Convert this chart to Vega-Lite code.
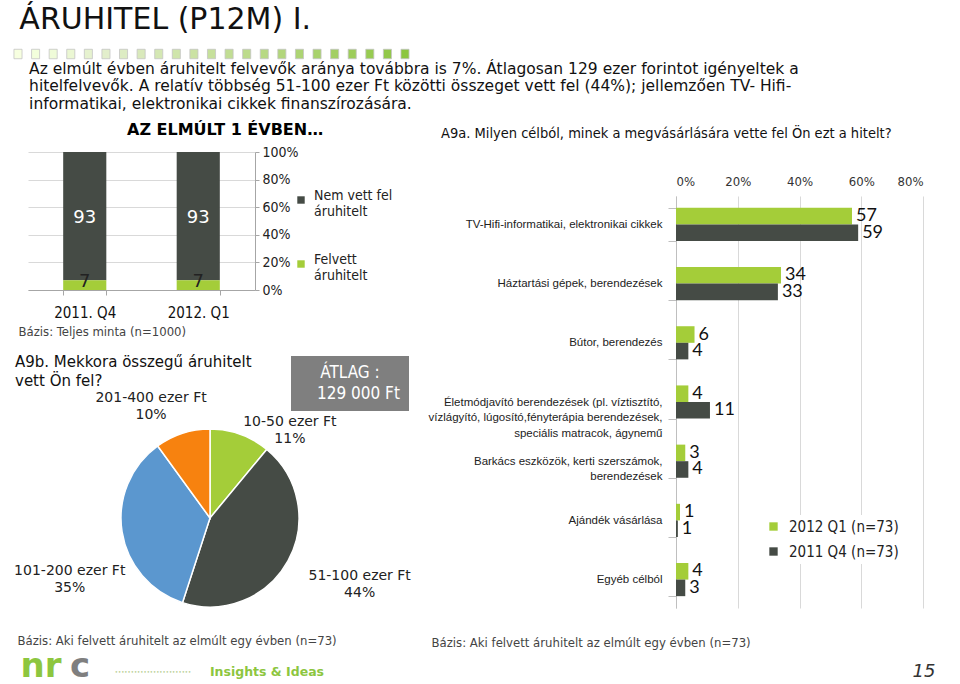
{
  "$schema": "https://vega.github.io/schema/vega-lite/v6.json",
  "background": "white",
  "padding": {"left": 12, "top": 4, "right": 0, "bottom": 0},
  "config": {
    "view": {"stroke": null},
    "font": "DejaVu Sans Condensed, DejaVu Sans",
    "title": {"fontWeight": "normal", "color": "#111", "font": "DejaVu Sans Condensed, DejaVu Sans"},
    "axis": {"labelFont": "DejaVu Sans Condensed, DejaVu Sans", "titleFont": "DejaVu Sans Condensed, DejaVu Sans"},
    "legend": {"labelFont": "DejaVu Sans Condensed, DejaVu Sans", "titleFont": "DejaVu Sans Condensed, DejaVu Sans"},
    "text": {"font": "DejaVu Sans Condensed, DejaVu Sans"}
  },
  "datasets": {
    "squares": [{"step": 1}, {"step": 2}, {"step": 3}, {"step": 4}, {"step": 5}, {"step": 6}, {"step": 7}, {"step": 8}, {"step": 9}, {"step": 10}, {"step": 11}, {"step": 12}, {"step": 13}, {"step": 14}, {"step": 15}, {"step": 16}, {"step": 17}, {"step": 18}, {"step": 19}, {"step": 20}, {"step": 21}, {"step": 22}, {"step": 23}],
    "status": [
      {"period": "2011. Q4", "status": "Nem vett fel áruhitelt", "value": 93},
      {"period": "2011. Q4", "status": "Felvett áruhitelt", "value": 7},
      {"period": "2012. Q1", "status": "Nem vett fel áruhitelt", "value": 93},
      {"period": "2012. Q1", "status": "Felvett áruhitelt", "value": 7}
    ],
    "pie": [
      {"range": "10-50 ezer Ft", "pct": 0.11},
      {"range": "51-100 ezer Ft", "pct": 0.44},
      {"range": "101-200 ezer Ft", "pct": 0.35},
      {"range": "201-400 ezer Ft", "pct": 0.10}
    ],
    "purpose": [
      {"cat": "TV-Hifi-informatikai, elektronikai cikkek", "series": "2012 Q1 (n=73)", "value": 57},
      {"cat": "TV-Hifi-informatikai, elektronikai cikkek", "series": "2011 Q4 (n=73)", "value": 59},
      {"cat": "Háztartási gépek, berendezések", "series": "2012 Q1 (n=73)", "value": 34},
      {"cat": "Háztartási gépek, berendezések", "series": "2011 Q4 (n=73)", "value": 33},
      {"cat": "Bútor, berendezés", "series": "2012 Q1 (n=73)", "value": 6},
      {"cat": "Bútor, berendezés", "series": "2011 Q4 (n=73)", "value": 4},
      {"cat": "Életmódjavító berendezések (pl. víztisztító, vízlágyító, lúgosító,fényterápia  berendezések, speciális matracok, ágynemű", "series": "2012 Q1 (n=73)", "value": 4},
      {"cat": "Életmódjavító berendezések (pl. víztisztító, vízlágyító, lúgosító,fényterápia  berendezések, speciális matracok, ágynemű", "series": "2011 Q4 (n=73)", "value": 11},
      {"cat": "Barkács eszközök, kerti szerszámok, berendezések", "series": "2012 Q1 (n=73)", "value": 3},
      {"cat": "Barkács eszközök, kerti szerszámok, berendezések", "series": "2011 Q4 (n=73)", "value": 4},
      {"cat": "Ajándék vásárlása", "series": "2012 Q1 (n=73)", "value": 1.3},
      {"cat": "Ajándék vásárlása", "series": "2011 Q4 (n=73)", "value": 0.6},
      {"cat": "Egyéb célból", "series": "2012 Q1 (n=73)", "value": 4},
      {"cat": "Egyéb célból", "series": "2011 Q4 (n=73)", "value": 3}
    ]
  },
  "spacing": 1,
  "align": "none",
  "resolve": {"scale": {"color": "independent", "shape": "independent"}, "legend": {"color": "independent", "shape": "independent"}},
  "vconcat": [
    {
      "title": {"text": "ÁRUHITEL (P12M) I.", "anchor": "start", "dx": 7, "fontSize": 30, "font": "DejaVu Sans", "color": "#111", "offset": 13},
      "spacing": 0,
      "align": "none",
      "resolve": {"scale": {"color": "independent", "shape": "independent"}, "legend": {"color": "independent", "shape": "independent"}},
      "vconcat": [
        {
          "width": 387, "height": 10,
          "data": {"name": "squares"},
          "mark": {"type": "point", "filled": true, "shape": "M-0.85,-1H0.85V1H-0.85Z", "size": 90, "stroke": "#c4c4c4", "strokeWidth": 0.8, "opacity": 1},
          "encoding": {
            "x": {"field": "step", "type": "ordinal", "axis": null, "scale": {"padding": 0, "range": [-10, 377]}},
            "color": {"field": "step", "type": "quantitative", "legend": null, "scale": {"domain": [1, 6, 23], "range": ["#ffffff", "#e2eecb", "#8cc63f"]}}
          }
        },
        {
          "title": {
            "text": [
              "Az elmúlt évben áruhitelt felvevők aránya továbbra is 7%. Átlagosan 129 ezer forintot igényeltek a",
              "hitelfelvevők. A relatív többség 51-100 ezer Ft közötti összeget vett fel (44%); jellemzően TV- Hifi-",
              "informatikai, elektronikai cikkek finanszírozására."
            ],
            "anchor": "start", "fontSize": 15.5, "lineHeight": 17.5, "font": "DejaVu Sans", "dx": 15, "offset": 10, "color": "#111"
          },
          "spacing": 13,
          "resolve": {"scale": {"color": "independent", "shape": "independent"}, "legend": {"color": "independent", "shape": "independent"}},
          "hconcat": [
            {
              "spacing": 117,
              "bounds": "flush",
              "resolve": {"scale": {"color": "independent", "shape": "independent"}, "legend": {"color": "independent", "shape": "independent"}},
              "vconcat": [
                {
                  "width": 227, "height": 138,
                  "title": {"text": "AZ ELMÚLT 1 ÉVBEN…", "anchor": "start", "frame": "group", "dx": 99, "fontSize": 16, "fontWeight": "bold", "font": "DejaVu Sans", "color": "#000", "offset": 7},
                  "data": {"name": "status"},
                  "encoding": {
                    "x": {
                      "field": "period", "type": "nominal",
                      "scale": {"paddingInner": 0.62, "paddingOuter": 0.31},
                      "axis": {
                        "title": "Bázis: Teljes minta (n=1000)", "labelAngle": 0, "labelFontSize": 15, "labelColor": "#111", "labelPadding": 10,
                        "tickBand": "extent", "tickSize": 5, "tickColor": "#a6a6a6", "domainColor": "#a6a6a6",
                        "titleFontSize": 13, "titleFontWeight": "normal", "titleColor": "#444", "titleAlign": "left", "titleAnchor": "start", "titleX": -10, "titlePadding": 5
                      }
                    },
                    "y": {
                      "field": "value", "type": "quantitative", "stack": "zero", "scale": {"domain": [0, 100]},
                      "axis": {"orient": "right", "values": [0, 20, 40, 60, 80, 100], "labelExpr": "datum.value + '%'", "labelOverlap": false, "title": null, "grid": true, "gridColor": "#d9d9d9", "domainColor": "#a6a6a6", "tickColor": "#a6a6a6", "tickSize": 4, "labelFontSize": 14, "labelColor": "#222", "labelPadding": 3}
                    }
                  },
                  "layer": [
                    {
                      "mark": {"type": "bar"},
                      "encoding": {
                        "color": {
                          "field": "status", "type": "nominal",
                          "scale": {"domain": ["Nem vett fel áruhitelt", "Felvett áruhitelt"], "range": ["#454b45", "#a4cd39"]},
                          "legend": {
                            "orient": "none", "legendX": 266, "legendY": 41, "title": null, "symbolType": "square", "symbolSize": 55,
                            "labelFontSize": 14, "labelColor": "#222", "rowPadding": 34, "labelOffset": 6, "labelLimit": 200, "labelBaseline": "alphabetic",
                            "labelExpr": "datum.label == 'Nem vett fel áruhitelt' ? ['Nem vett fel', 'áruhitelt'] : ['Felvett', 'áruhitelt']"
                          }
                        },
                        "order": {"field": "status", "type": "nominal", "sort": "ascending"}
                      }
                    },
                    {
                      "transform": [{"filter": "datum.status == 'Nem vett fel áruhitelt'"}],
                      "mark": {"type": "text", "color": "white", "fontSize": 18, "font": "DejaVu Sans", "dy": 56, "baseline": "middle"},
                      "encoding": {"text": {"field": "value", "type": "quantitative"}}
                    },
                    {
                      "transform": [{"filter": "datum.status == 'Felvett áruhitelt'"}],
                      "mark": {"type": "text", "color": "#222", "fontSize": 18, "font": "DejaVu Sans", "dy": 2, "baseline": "middle"},
                      "encoding": {"text": {"field": "value", "type": "quantitative"}}
                    }
                  ]
                },
                {
                  "width": 364, "height": 222,
                  "title": {"text": ["A9b.  Mekkora összegű áruhitelt", "vett Ön fel?"], "anchor": "start", "frame": "group", "dx": -13, "fontSize": 15, "lineHeight": 19, "font": "DejaVu Sans", "offset": -33, "color": "#111"},
                  "layer": [
                    {
                      "data": {"name": "pie"},
                      "transform": [{"window": [{"op": "row_number", "as": "idx"}]}],
                      "mark": {"type": "arc", "outerRadius": 89, "stroke": "white", "strokeWidth": 1.5},
                      "encoding": {
                        "theta": {"field": "pct", "type": "quantitative", "stack": true},
                        "order": {"field": "idx", "type": "quantitative"},
                        "color": {"field": "range", "type": "nominal", "scale": {"domain": ["10-50 ezer Ft", "51-100 ezer Ft", "101-200 ezer Ft", "201-400 ezer Ft"], "range": ["#a4cd39", "#454b45", "#5b97cf", "#f7820f"]}, "legend": null}
                      }
                    },
                    {
                      "data": {"name": "pie"},
                      "transform": [{"window": [{"op": "row_number", "as": "idx"}]}],
                      "mark": {
                        "type": "text", "font": "DejaVu Sans", "fontSize": 14, "color": "#222", "lineHeight": 17, "baseline": "middle",
                        "radius": {"expr": "datum.range == '10-50 ezer Ft' ? 100 : datum.range == '51-100 ezer Ft' ? 140 : datum.range == '101-200 ezer Ft' ? 142 : 126"},
                        "dx": {"expr": "datum.range == '10-50 ezer Ft' ? 46 : datum.range == '51-100 ezer Ft' ? 27 : datum.range == '101-200 ezer Ft' ? 0 : -20"},
                        "dy": {"expr": "datum.range == '10-50 ezer Ft' ? -2 : datum.range == '51-100 ezer Ft' ? -9 : datum.range == '101-200 ezer Ft' ? 31 : 0"},
                        "text": {"expr": "[datum.range, format(datum.pct, '.0%')]"}
                      },
                      "encoding": {
                        "theta": {"field": "pct", "type": "quantitative", "stack": true},
                        "order": {"field": "idx", "type": "quantitative"}
                      }
                    },
                    {
                      "data": {"values": [{"avg": "129 000 Ft"}]},
                      "mark": {"type": "point", "opacity": 0},
                      "encoding": {
                        "x": {
                          "field": "avg", "type": "nominal",
                          "axis": {"title": "Bázis: Aki felvett áruhitelt az elmúlt egy évben (n=73)", "labels": false, "ticks": false, "domain": false, "titleAnchor": "start", "titleAlign": "left", "titleX": -11, "titlePadding": 5, "titleFontSize": 13, "titleFontWeight": "normal", "titleColor": "#444"}
                        },
                        "shape": {
                          "field": "avg", "type": "nominal",
                          "legend": {
                            "orient": "none", "legendX": 263, "legendY": -51, "title": "ÁTLAG :", "titleFontSize": 17, "titleColor": "white", "titleFontWeight": "normal",
                            "titleAnchor": "middle", "titleAlign": "center", "labelFontSize": 17, "labelColor": "white", "symbolSize": 0, "symbolOpacity": 0, "symbolStrokeWidth": 0,
                            "labelOffset": 0, "fillColor": "#7f7f7f", "padding": 9, "titlePadding": 3
                          }
                        }
                      }
                    }
                  ]
                }
              ]
            },
            {
              "bounds": "flush",
              "spacing": 0,
              "resolve": {"scale": {"color": "independent", "shape": "independent"}, "legend": {"color": "independent", "shape": "independent"}},
              "vconcat": [
                {"width": 247, "height": 44, "data": {"values": []}, "mark": {"type": "text"}, "encoding": {}},
                {
                  "width": 247, "height": 412,
                  "title": {"text": "A9a. Milyen célból, minek a megvásárlására vette fel Ön ezt a hitelt?", "anchor": "start", "frame": "group", "dx": -235, "fontSize": 14.5, "offset": 34, "color": "#111"},
                  "data": {"name": "purpose"},
                  "encoding": {
                    "y": {
                      "field": "cat", "type": "nominal", "sort": null, "scale": {"paddingInner": 0.44},
                      "axis": {
                        "title": "Bázis: Aki felvett áruhitelt az elmúlt egy évben (n=73)", "titleAngle": 0, "titleAlign": "left", "titleBaseline": "middle", "titleX": -245, "titleY": 446,
                        "titleFontSize": 13, "titleFontWeight": "normal", "titleColor": "#444",
                        "labelFont": "Liberation Sans Narrow, Liberation Sans", "labelFontSize": 11.5, "labelColor": "#222", "labelLimit": 330, "labelLineHeight": 15.5,
                        "labelExpr": "indexof(datum.label, 'Életmód') == 0 ? ['Életmódjavító berendezések (pl. víztisztító,', 'vízlágyító, lúgosító,fényterápia  berendezések,', 'speciális matracok, ágynemű'] : indexof(datum.label, 'Barkács') == 0 ? ['Barkács eszközök, kerti szerszámok,', 'berendezések'] : datum.label",
                        "tickBand": "extent", "tickSize": 8, "tickColor": "#bfbfbf", "domainColor": "#bfbfbf", "labelPadding": 6, "grid": false
                      }
                    },
                    "yOffset": {"field": "series", "type": "nominal", "sort": ["2012 Q1 (n=73)", "2011 Q4 (n=73)"]},
                    "x": {
                      "field": "value", "type": "quantitative", "stack": null, "scale": {"domain": [0, 80]},
                      "axis": {"orient": "top", "values": [0, 20, 40, 60, 80], "labelExpr": "datum.value + '%'", "title": null, "domain": false, "ticks": false, "grid": true, "gridColor": "#d9d9d9", "labelFontSize": 13, "labelColor": "#333", "labelPadding": 8}
                    }
                  },
                  "layer": [
                    {
                      "mark": {"type": "bar"},
                      "encoding": {
                        "color": {
                          "field": "series", "type": "nominal",
                          "scale": {"domain": ["2012 Q1 (n=73)", "2011 Q4 (n=73)"], "range": ["#a4cd39", "#454b45"]},
                          "legend": {"orient": "none", "legendX": 86, "legendY": 319, "title": null, "symbolType": "square", "symbolSize": 70, "labelFontSize": 15, "labelColor": "#222", "rowPadding": 9, "labelOffset": 8, "fillColor": "white", "padding": 4}
                        }
                      }
                    },
                    {
                      "mark": {"type": "text", "align": "left", "baseline": "middle", "dx": 4, "fontSize": 18, "font": "Lato", "color": "#111"},
                      "encoding": {"text": {"field": "value", "type": "quantitative", "format": ".0f"}}
                    }
                  ]
                }
              ]
            }
          ]
        }
      ]
    },
    {
      "bounds": "flush",
      "spacing": 0,
      "hconcat": [
        {"width": 26, "height": 30, "data": {"values": [{"t": "nr"}]}, "mark": {"type": "text", "fontSize": 34, "fontWeight": "bold", "font": "DejaVu Sans", "color": "#8dc63f", "baseline": "alphabetic", "dy": 5}, "encoding": {"text": {"field": "t", "type": "nominal"}}},
        {"width": 52, "height": 30, "data": {"values": [{"t": "c"}]}, "mark": {"type": "text", "fontSize": 34, "fontWeight": "bold", "font": "DejaVu Sans", "color": "#7f7f7f", "baseline": "alphabetic", "dy": 5}, "encoding": {"text": {"field": "t", "type": "nominal"}}},
        {"width": 94, "height": 30, "data": {"values": [{"t": "••••••••••••••••••••••••"}]}, "mark": {"type": "text", "fontSize": 6, "color": "#b9cf95", "baseline": "middle"}, "encoding": {"text": {"field": "t", "type": "nominal"}}},
        {"width": 134, "height": 30, "data": {"values": [{"t": "Insights & Ideas"}]}, "mark": {"type": "text", "fontSize": 12.5, "fontWeight": "bold", "font": "DejaVu Sans", "color": "#8dc63f", "baseline": "middle"}, "encoding": {"text": {"field": "t", "type": "nominal"}}},
        {"width": 580, "height": 30, "data": {"values": []}, "mark": {"type": "text"}, "encoding": {}},
        {"width": 20, "height": 30, "data": {"values": [{"t": "15"}]}, "mark": {"type": "text", "fontSize": 18, "fontStyle": "italic", "font": "DejaVu Sans", "color": "#333", "baseline": "middle"}, "encoding": {"text": {"field": "t", "type": "nominal"}}}
      ]
    }
  ]
}
